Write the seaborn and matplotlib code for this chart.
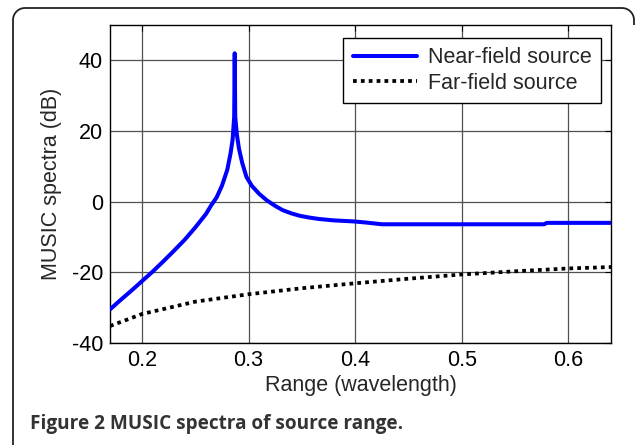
import numpy as np
import pandas as pd
import matplotlib
matplotlib.use("Agg")
import matplotlib.pyplot as plt
import seaborn as sns
from matplotlib.path import Path
from matplotlib.patches import PathPatch

# ---- data ----
near_x = [0.17, 0.18, 0.19, 0.20, 0.21, 0.22, 0.23, 0.24, 0.25, 0.26, 0.265, 0.27,
          0.275, 0.28, 0.283, 0.285, 0.2865, 0.287, 0.2875, 0.289, 0.291, 0.294,
          0.298, 0.303, 0.31, 0.317, 0.325, 0.332, 0.34, 0.348, 0.357, 0.366,
          0.38, 0.399, 0.41, 0.425, 0.577, 0.58, 0.64]
near_y = [-30.5, -27.8, -25.2, -22.5, -19.8, -16.9, -13.9, -10.8, -7.3, -3.5, -1.0, 1.2,
          4.5, 9.0, 13.5, 17.5, 24.0, 42.0, 24.0, 19.0, 15.0, 11.0,
          7.0, 4.5, 2.2, 0.4, -1.2, -2.4, -3.3, -4.0, -4.5, -4.9,
          -5.3, -5.6, -5.9, -6.4, -6.4, -6.0, -6.0]
far_x = [0.17, 0.20, 0.25, 0.30, 0.35, 0.40, 0.45, 0.50, 0.55, 0.60, 0.64]
far_y = [-35.2, -31.8, -28.3, -26.2, -24.5, -23.1, -21.8, -20.6, -19.7, -18.9, -18.5]

labels = ["Near-field source", "Far-field source"]
xticks = [0.2, 0.3, 0.4, 0.5, 0.6]
yticks = [-40, -20, 0, 20, 40]
xlabel = "Range (wavelength)"
ylabel = "MUSIC spectra (dB)"
caption_bold = "Figure 2"
caption_rest = " MUSIC spectra of source range."

sns.set_style("white")
plt.rcParams["font.family"] = ["Liberation Sans", "DejaVu Sans"]

FS = 15.5
fig = plt.figure(figsize=(6.35, 4.45), dpi=100)
ax = fig.add_axes([110/635, 1-343/445, (611-110)/635, (343-25)/445])

df_near = pd.DataFrame({"x": near_x, "y": near_y})
df_far = pd.DataFrame({"x": far_x, "y": far_y})
sns.lineplot(data=df_near, x="x", y="y", ax=ax, color="#0000ff", lw=2.9,
             label=labels[0], sort=False, estimator=None, zorder=3)
sns.lineplot(data=df_far, x="x", y="y", ax=ax, color="black", lw=2.7,
             linestyle=(0, (1, 1.1)), label=labels[1], sort=False, estimator=None, zorder=3)

ax.set_xlim(0.17, 0.64)
ax.set_ylim(-40, 50)
ax.set_xticks(xticks)
ax.set_xticklabels([f"{t:.1f}" for t in xticks])
ax.set_yticks(yticks)
ax.set_yticklabels([str(t) for t in yticks])
ax.grid(True, color="#505050", lw=0.9, zorder=0)
ax.tick_params(direction="in", length=4, width=0.8, top=True, right=True,
               labelsize=FS, colors="black", pad=5)
for s in ax.spines.values():
    s.set_color("black")
    s.set_linewidth(1.0)
ax.set_xlabel(xlabel, fontsize=FS, labelpad=3)
ax.set_ylabel(ylabel, fontsize=FS, labelpad=7)

leg = ax.legend(loc="upper right", bbox_to_anchor=(1 - 10/501, 1 - 13/318),
                fontsize=FS, frameon=True, fancybox=False, framealpha=1,
                borderpad=0.43, labelspacing=0.2, handlelength=3.0,
                handletextpad=0.5, borderaxespad=0)
leg.get_frame().set_edgecolor("black")
leg.get_frame().set_linewidth(1.0)

# rounded frame (decoration) in pixel-inch coordinates
r = 0.12
L, T, R, B = 0.13, (445 - 8) / 100, 6.34, -0.1
th1 = np.linspace(np.pi, np.pi / 2, 12)
th2 = np.linspace(np.pi / 2, 0, 12)
pts = [(L, B), (L, T - r)]
pts += [(L + r + r*np.cos(t), T - r + r*np.sin(t)) for t in th1]
pts += [(R - r + r*np.cos(t), T - r + r*np.sin(t)) for t in th2]
pts += [(R, T - r - 0.05)]
codes = [Path.MOVETO] + [Path.LINETO] * (len(pts) - 1)
fig.add_artist(PathPatch(Path(pts, codes), fill=False, edgecolor="#222222",
                         lw=1.3, transform=fig.dpi_scale_trans))

CFS = 13.7
t1 = fig.text(30/635, 1 - 424/445, caption_bold, fontsize=CFS, fontweight="bold",
              family=["Open Sans", "DejaVu Sans"], color="#333333", va="center")
fig.canvas.draw()
bb = t1.get_window_extent()
fig.text(bb.x1/635, 1 - 424/445, caption_rest, fontsize=CFS, fontweight="bold",
         family=["Open Sans", "DejaVu Sans"], color="#333333", va="center")

fig.savefig("out.png", dpi=100)
